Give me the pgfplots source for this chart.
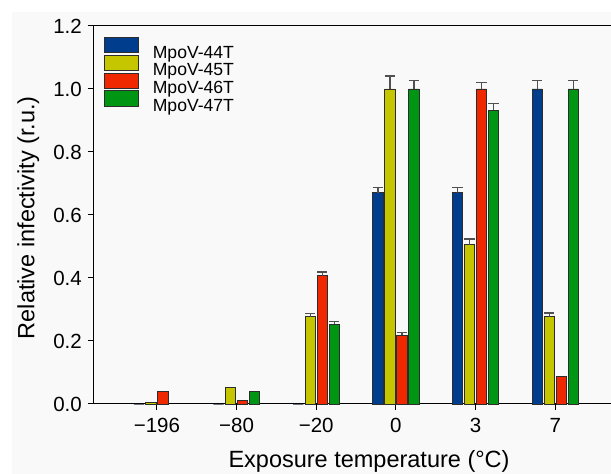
\documentclass[border=0pt]{standalone}
\usepackage{fontspec}
\setmainfont{Liberation Sans}
\usepackage{pgfplots}
\pgfplotsset{compat=1.18}
\usetikzlibrary{backgrounds}

\definecolor{cblue}{RGB}{0,61,140}
\definecolor{cyellow}{RGB}{198,198,0}
\definecolor{cred}{RGB}{240,40,0}
\definecolor{cgreen}{RGB}{0,150,20}
\definecolor{panel}{RGB}{249,249,249}
\definecolor{errgray}{RGB}{80,80,80}
\definecolor{edge}{RGB}{45,45,45}

\begin{document}
\begin{tikzpicture}
\begin{axis}[
    at={(94pt,70pt)}, anchor=south west,
    scale only axis, width=517pt, height=378pt,
    clip=false,
    ybar=1.7pt, bar width=10.3pt,
    xmin=-0.79, xmax=5.7, ymin=0, ymax=1.2,
    xtick={0,...,5},
    xticklabels={−196,−80,−20,0,3,7},
    ytick={0,0.2,...,1.2},
    yticklabel style={/pgf/number format/fixed, /pgf/number format/fixed zerofill, /pgf/number format/precision=1},
    /pgf/number format/assume math mode=true,
    axis lines*=left,
    axis line style={-, line width=1pt},
    tick align=outside,
    major tick length=6pt,
    tick style={black, line width=1pt},
    tick label style={font=\fontsize{20.5}{24}\selectfont},
    xticklabel style={inner sep=0pt, anchor=north, yshift=-8pt},
    yticklabel style={inner sep=0pt, anchor=east, xshift=-6pt},
    xlabel={Exposure temperature (°C)},
    xlabel style={font=\fontsize{23.5}{28}\selectfont, at={(axis description cs:0.532,0)}, anchor=base, yshift=-64pt},
    ylabel={Relative infectivity (r.u.)},
    ylabel style={font=\fontsize{23.5}{28}\selectfont, at={(axis description cs:0,0.493)}, anchor=base, yshift=59.5pt},
    every axis plot/.append style={draw=edge, line width=0.9pt},
    error bars/y dir=plus,
    error bars/y explicit,
    error bars/error bar style={color=errgray, line width=1.3pt},
    error bars/error mark options={rotate=90, color=errgray, line width=1.3pt, mark size=5.2pt},
    legend image code/.code={\draw[#1] (0pt,-4.2pt) rectangle (34.4pt,11.4pt);},
    legend cell align=left,
    legend style={at={(axis description cs:0.018,0.9717)}, anchor=north west,
        draw=none, fill=none, inner sep=0pt, row sep=-3.4pt, column sep=14pt,
        font=\fontsize{17.6}{17.4}\selectfont,
        nodes={inner sep=0pt, text height=18.8pt, text depth=0pt}},
]
\addplot[fill=cblue] coordinates {
    (0,0) (1,0) (2,0)
    (3,0.67) +- (0,0.017)
    (4,0.67) +- (0,0.017)
    (5,1.0) +- (0,0.026)
};
\addlegendentry{MpoV-44T}
\addplot[fill=cyellow] coordinates {
    (0,0.006) (1,0.052)
    (2,0.277) +- (0,0.011)
    (3,1.0) +- (0,0.041)
    (4,0.505) +- (0,0.019)
    (5,0.277) +- (0,0.012)
};
\addlegendentry{MpoV-45T}
\addplot[fill=cred] coordinates {
    (0,0.041) (1,0.012)
    (2,0.407) +- (0,0.012)
    (3,0.219) +- (0,0.007)
    (4,1.0) +- (0,0.02)
    (5,0.087)
};
\addlegendentry{MpoV-46T}
\addplot[fill=cgreen] coordinates {
    (1,0.04)
    (2,0.253) +- (0,0.01)
    (3,1.0) +- (0,0.027)
    (4,0.933) +- (0,0.021)
    (5,1.0) +- (0,0.026)
};
\addlegendentry{MpoV-47T}
\draw[line width=1pt] (rel axis cs:0,1) -- (rel axis cs:1,1);
\end{axis}
\begin{scope}[on background layer]
\fill[panel] (12pt,0pt) rectangle (611pt,462pt);
\end{scope}
\pgfresetboundingbox
\path[use as bounding box] (0,0) rectangle (611pt,474pt);
\end{tikzpicture}
\end{document}
